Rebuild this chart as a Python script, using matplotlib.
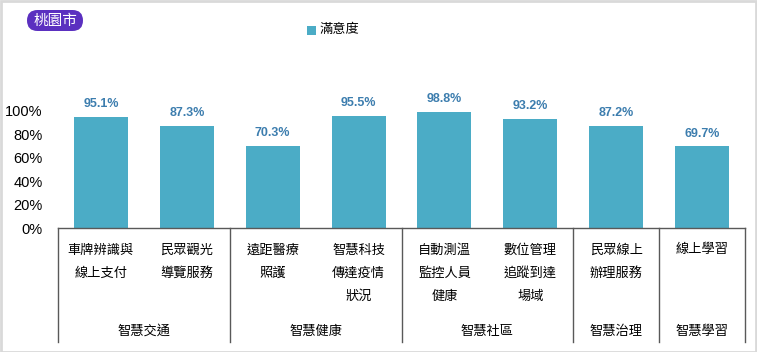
import matplotlib
matplotlib.use("Agg")
import matplotlib.pyplot as plt
from matplotlib.patches import Rectangle, FancyBboxPatch
from matplotlib.lines import Line2D
from matplotlib.transforms import blended_transform_factory, IdentityTransform
from matplotlib.ticker import FuncFormatter

plt.rcParams['font.family'] = ['Noto Sans CJK TC', 'DejaVu Sans']

city = "桃園市"
series_name = "滿意度"
categories = ["車牌辨識與\n線上支付", "民眾觀光\n導覽服務", "遠距醫療\n照護", "智慧科技\n傳達疫情\n狀況",
              "自動測溫\n監控人員\n健康", "數位管理\n追蹤到達\n場域", "民眾線上\n辦理服務", "線上學習"]
values = [0.951, 0.873, 0.703, 0.955, 0.988, 0.932, 0.872, 0.697]
groups = ["智慧交通", "智慧健康", "智慧社區", "智慧治理", "智慧學習"]
group_sizes = [2, 2, 2, 1, 1]
yticks = [0, 0.2, 0.4, 0.6, 0.8, 1.0]

W, H = 757, 352
fig = plt.figure(figsize=(W / 100, H / 100), dpi=100)

def fx(px):
    return px / W

def fy(py):
    return 1 - py / H

ymax = 1.2
ax_left, ax_right = 58, 745
ax_bottom = 228
ax_top = ax_bottom - 117 * ymax
ax = fig.add_axes([fx(ax_left), fy(ax_bottom), fx(ax_right - ax_left), (ax_bottom - ax_top) / H])

bar_color = "#4BACC6"
xs = list(range(len(values)))
bars = ax.bar(xs, values, width=0.63, color=bar_color, label=series_name, zorder=2)
ax.set_xlim(-0.5, len(values) - 0.5)
ax.set_ylim(0, ymax)
ax.set_yticks(yticks)
ax.yaxis.set_major_formatter(FuncFormatter(lambda v, p: f"{v*100:.0f}%"))
ax.tick_params(axis='y', length=0, labelsize=10.5, pad=11)
for lab in ax.get_yticklabels():
    lab.set_fontfamily(['Liberation Sans', 'DejaVu Sans'])
ax.set_xticks([])
for s in ['top', 'right', 'left']:
    ax.spines[s].set_visible(False)
ax.spines['bottom'].set_color('#595959')
ax.spines['bottom'].set_linewidth(1.0)

for x, v in zip(xs, values):
    ax.annotate(f"{v*100:.1f}%", (x, v), xytext=(0, 5), textcoords='offset points',
                ha='center', va='bottom', fontsize=9, fontweight='bold', color='#3C7DAE',
                family=['Liberation Sans', 'DejaVu Sans'])

# category labels below axis
tr = blended_transform_factory(ax.transData, fig.transFigure)
line_y = [250, 273, 296]
for x, cat in zip(xs, categories):
    for i, line in enumerate(cat.split("\n")):
        fig.text(x, fy(line_y[i]), line, transform=tr, ha='center', va='center', fontsize=9.5)

# group separators and labels
start = -0.5
bounds = [start]
for g, n in zip(groups, group_sizes):
    end = start + n
    fig.text((start + end) / 2, fy(331), g, transform=tr, ha='center', va='center', fontsize=9.5)
    start = end
    bounds.append(end)
for b in bounds:
    fig.add_artist(Line2D([b, b], [fy(ax_bottom), fy(342)], transform=tr, color='#595959', lw=1.0))

# legend
fig.add_artist(Rectangle((fx(307), fy(35)), fx(9), 9 / H, transform=fig.transFigure,
                         facecolor=bar_color, edgecolor='none'))
fig.text(fx(319), fy(30), series_name, ha='left', va='center', fontsize=9.5)

# city badge (pixel coordinates)
badge = FancyBboxPatch((27, H - 31), 56, 21, transform=IdentityTransform(),
                       boxstyle="round,pad=0,rounding_size=10.5", facecolor='#5B30C0',
                       edgecolor='none')
fig.add_artist(badge)
fig.text(fx(55), fy(20.5), city, ha='center', va='center', fontsize=10.5, color='white')

# figure border
fig.add_artist(Rectangle((0.5 / W, 0.5 / H), 1 - 1.5 / W, 1 - 1.5 / H, transform=fig.transFigure,
                         facecolor='none', edgecolor='#D9D9D9', lw=2))

fig.savefig("out.png", dpi=100)
